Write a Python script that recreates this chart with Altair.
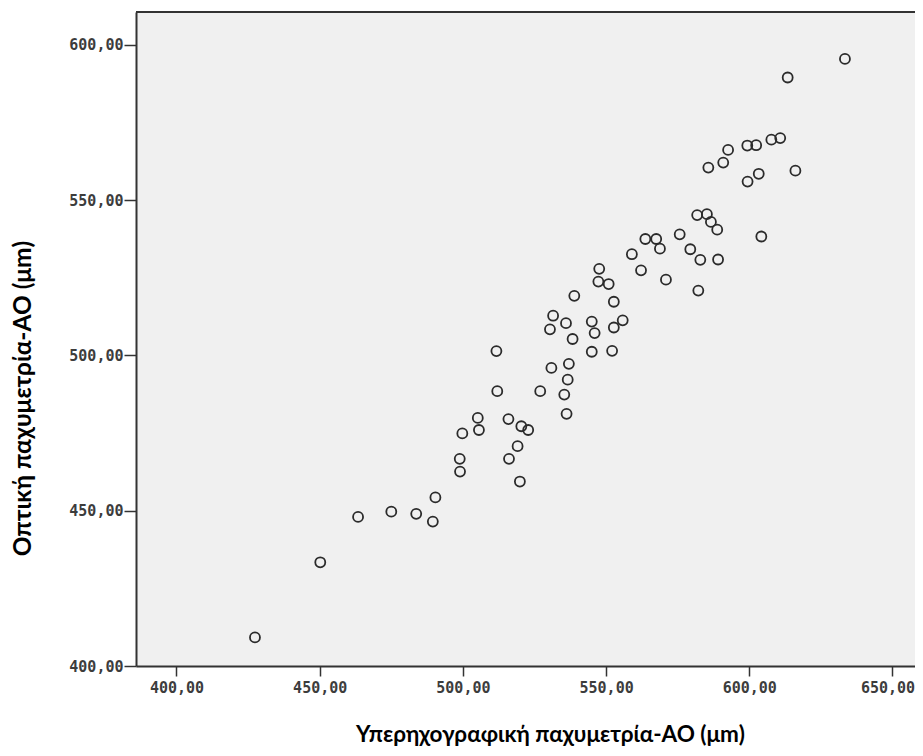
import altair as alt
import pandas as pd

# Ultrasound pachymetry (x) vs optical pachymetry (y), micrometres
x_us = [633.4, 613.4, 592.6, 590.9, 585.7, 599.3, 602.4, 607.7, 610.8, 616.1,
        603.3, 599.4, 581.8, 585.2, 586.6, 588.8, 604.2, 575.7, 563.7, 567.5,
        568.8, 559.0, 579.4, 582.9, 589.1, 582.2, 562.2, 570.9, 547.6, 547.3,
        550.9, 538.9, 552.7, 531.5, 536.0, 545.0, 555.8, 530.4, 546.0, 552.7,
        538.3, 511.7, 545.0, 552.1, 530.9, 537.0, 536.6, 512.0, 527.0, 535.4,
        536.2, 515.9, 520.4, 522.8, 519.1, 516.1, 519.9, 505.2, 505.6, 499.8,
        498.9, 499.0, 490.4, 489.5, 483.7, 475.0, 463.4, 450.2, 427.4]
y_opt = [595.5, 589.5, 566.2, 562.1, 560.5, 567.6, 567.7, 569.5, 570.0, 559.5,
         558.5, 556.0, 545.2, 545.5, 543.0, 540.5, 538.3, 539.0, 537.5, 537.5,
         534.4, 532.6, 534.2, 530.8, 530.9, 520.9, 527.4, 524.4, 527.9, 523.8,
         523.0, 519.2, 517.3, 512.8, 510.4, 510.9, 511.3, 508.4, 507.2, 509.0,
         505.3, 501.4, 501.2, 501.5, 496.0, 497.3, 492.2, 488.5, 488.5, 487.4,
         481.2, 479.5, 477.2, 476.0, 470.8, 466.7, 459.4, 479.9, 476.0, 474.9,
         466.7, 462.6, 454.3, 446.5, 449.0, 449.7, 448.0, 433.4, 409.2]

x_ticks = [400, 450, 500, 550, 600, 650]
y_ticks = [400, 450, 500, 550, 600]
x_title = "Υπερηχογραφική παχυμετρία-ΑΟ  (μm)"
y_title = "Οπτική παχυμετρία-ΑΟ (μm)"

df = pd.DataFrame({"us": x_us, "opt": y_opt})

W = 779
H = 654
x_min = 385.86
x_max = x_min + W / 2.864
y_min = 400
y_max = 610.6

label_expr = "replace(format(datum.value, '.2f'), '.', ',')"

common_axis = dict(
    labelExpr=label_expr,
    labelFont="DejaVu Sans Mono",
    labelFontSize=15,
    labelFontWeight="bold",
    labelColor="#3c3c3c",
    tickColor="#333333",
    tickWidth=1.5,
    domain=True,
    domainColor="#333333",
    domainWidth=2,
    grid=False,
    titleFont="Lato",
    titleFontWeight="bold",
    titleColor="#000000",
    titleBaseline="middle",
    titleAlign="center",
    labelOverlap=False,
)

x_scale = alt.Scale(domain=[x_min, x_max], nice=False, zero=False)
y_scale = alt.Scale(domain=[y_min, y_max], nice=False, zero=False)

points = (
    alt.Chart(df)
    .mark_point(shape="circle", filled=False, size=100, stroke="#2b2b2b",
                strokeWidth=1.8, opacity=1)
    .encode(
        x=alt.X("us:Q", scale=x_scale,
                axis=alt.Axis(values=x_ticks, title=x_title, tickSize=10,
                              labelPadding=4, titleX=414, titleY=68,
                              titleFontSize=22.5,
                              labelOffset={"condition": {"test": "datum.value == 650", "value": -5},
                                           "value": 0},
                              **common_axis)),
        y=alt.Y("opt:Q", scale=y_scale,
                axis=alt.Axis(values=y_ticks, title=y_title, tickSize=12,
                              labelPadding=1, titleAngle=270, titleX=-113,
                              titleY=386, titleFontSize=24.5, **common_axis)),
    )
)

top_border = (
    alt.Chart(df)
    .mark_rule(color="#333333", strokeWidth=2)
    .encode(y=alt.datum(y_max, scale=y_scale))
)

chart = (
    alt.layer(points, top_border)
    .properties(
        width=W,
        height=H,
        autosize=alt.AutoSizeParams(type="none"),
        padding={"left": 128, "top": 4, "right": 0, "bottom": 82},
        background="#ffffff",
    )
    .configure_view(fill="#f0f0f0", stroke=None, strokeWidth=0)
)

chart.save("out.html", embed_options={"renderer": "svg", "actions": False})
